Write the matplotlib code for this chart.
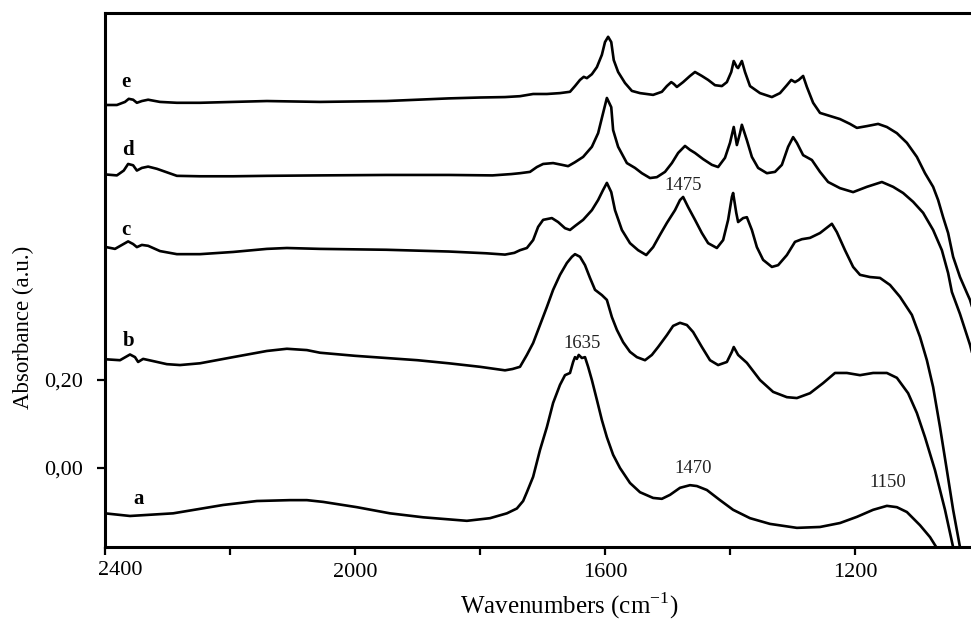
import matplotlib
matplotlib.use("Agg")
import matplotlib.pyplot as plt
from matplotlib.ticker import FixedLocator, FixedFormatter

plt.rcParams['font.family'] = ['Liberation Serif', 'DejaVu Serif']

# ---- data: (wavenumber cm-1, absorbance) ----
pts_a = [(2400, -0.103), (2360, -0.109), (2291, -0.103), (2211, -0.084), (2157, -0.075),
         (2104, -0.073), (2077, -0.073), (2051, -0.077), (1997, -0.089), (1944, -0.103),
         (1891, -0.112), (1821, -0.120), (1784, -0.114), (1757, -0.103), (1741, -0.092),
         (1731, -0.075), (1725, -0.055), (1715, -0.020), (1704, 0.041), (1693, 0.093),
         (1683, 0.148), (1672, 0.189), (1664, 0.211), (1656, 0.216), (1651, 0.241),
         (1648, 0.252), (1645, 0.248), (1642, 0.257), (1637, 0.250), (1632, 0.252),
         (1627, 0.230), (1621, 0.200), (1613, 0.155), (1605, 0.109), (1597, 0.070),
         (1587, 0.030), (1576, 0.000), (1560, -0.034), (1544, -0.055), (1523, -0.068),
         (1509, -0.070), (1496, -0.061), (1480, -0.045), (1464, -0.039), (1453, -0.041),
         (1437, -0.050), (1416, -0.073), (1395, -0.095), (1368, -0.114), (1336, -0.127),
         (1293, -0.136), (1256, -0.134), (1224, -0.125), (1197, -0.111), (1171, -0.095),
         (1149, -0.086), (1133, -0.089), (1117, -0.100), (1096, -0.130), (1080, -0.157),
         (1069, -0.182), (1050, -0.25)]

pts_b = [(2398, 0.247), (2376, 0.245), (2360, 0.258), (2352, 0.252), (2347, 0.241),
         (2339, 0.248), (2323, 0.243), (2301, 0.236), (2280, 0.234), (2248, 0.238),
         (2195, 0.252), (2141, 0.266), (2109, 0.271), (2077, 0.268), (2056, 0.262),
         (2000, 0.255), (1900, 0.245), (1850, 0.238), (1800, 0.230), (1780, 0.226),
         (1760, 0.222), (1748, 0.225), (1736, 0.230), (1725, 0.257), (1715, 0.284),
         (1704, 0.325), (1693, 0.366), (1683, 0.405), (1672, 0.439), (1661, 0.466),
         (1653, 0.480), (1648, 0.486), (1640, 0.480), (1632, 0.461), (1624, 0.432),
         (1616, 0.405), (1605, 0.393), (1597, 0.382), (1589, 0.343), (1581, 0.314),
         (1571, 0.286), (1560, 0.264), (1549, 0.252), (1536, 0.245), (1525, 0.257),
         (1515, 0.275), (1501, 0.302), (1491, 0.323), (1480, 0.330), (1469, 0.325),
         (1459, 0.309), (1445, 0.275), (1432, 0.245), (1419, 0.234), (1405, 0.241),
         (1397, 0.264), (1394, 0.275), (1387, 0.257), (1373, 0.239), (1352, 0.200),
         (1331, 0.173), (1309, 0.161), (1293, 0.159), (1272, 0.170), (1251, 0.193),
         (1232, 0.216), (1213, 0.216), (1192, 0.211), (1171, 0.216), (1149, 0.216),
         (1133, 0.205), (1115, 0.170), (1101, 0.125), (1088, 0.070), (1072, -0.005),
         (1056, -0.095), (1043, -0.180), (1030, -0.26)]

pts_c = [(2398, 0.502), (2384, 0.498), (2363, 0.515), (2355, 0.509), (2349, 0.502),
         (2341, 0.507), (2331, 0.505), (2312, 0.493), (2285, 0.486), (2248, 0.486),
         (2195, 0.491), (2141, 0.498), (2109, 0.500), (2056, 0.498), (1950, 0.496),
         (1850, 0.492), (1790, 0.488), (1760, 0.485), (1745, 0.489), (1736, 0.495),
         (1725, 0.500), (1715, 0.518), (1707, 0.548), (1699, 0.564), (1685, 0.568),
         (1675, 0.559), (1664, 0.545), (1656, 0.541), (1648, 0.550), (1635, 0.564),
         (1621, 0.586), (1611, 0.609), (1603, 0.632), (1597, 0.648), (1590, 0.627),
         (1584, 0.586), (1573, 0.541), (1560, 0.511), (1547, 0.495), (1534, 0.484),
         (1523, 0.502), (1512, 0.530), (1501, 0.557), (1488, 0.586), (1480, 0.609),
         (1475, 0.616), (1467, 0.593), (1456, 0.564), (1445, 0.534), (1435, 0.511),
         (1421, 0.500), (1411, 0.518), (1403, 0.564), (1397, 0.616), (1395, 0.625),
         (1390, 0.580), (1387, 0.559), (1379, 0.568), (1373, 0.570), (1365, 0.541),
         (1357, 0.502), (1347, 0.473), (1333, 0.457), (1323, 0.461), (1309, 0.484),
         (1296, 0.514), (1285, 0.520), (1272, 0.523), (1256, 0.534), (1237, 0.555),
         (1229, 0.536), (1216, 0.495), (1203, 0.457), (1192, 0.439), (1176, 0.434),
         (1160, 0.432), (1144, 0.416), (1128, 0.389), (1109, 0.348), (1096, 0.298),
         (1085, 0.245), (1075, 0.184), (1064, 0.093), (1053, -0.005), (1043, -0.095),
         (1032, -0.180), (1022, -0.26)]

pts_d = [(2398, 0.667), (2381, 0.665), (2370, 0.676), (2363, 0.691), (2355, 0.688),
         (2349, 0.676), (2341, 0.682), (2331, 0.685), (2317, 0.680), (2301, 0.672),
         (2285, 0.664), (2248, 0.663), (2195, 0.663), (2141, 0.664), (2056, 0.665),
         (1950, 0.666), (1850, 0.666), (1780, 0.665), (1750, 0.668), (1736, 0.670),
         (1720, 0.673), (1709, 0.684), (1699, 0.691), (1683, 0.693), (1669, 0.689),
         (1659, 0.686), (1648, 0.695), (1635, 0.707), (1621, 0.730), (1611, 0.761),
         (1603, 0.807), (1597, 0.841), (1590, 0.820), (1587, 0.768), (1579, 0.730),
         (1565, 0.693), (1552, 0.682), (1541, 0.670), (1528, 0.659), (1517, 0.661),
         (1504, 0.673), (1493, 0.693), (1483, 0.716), (1472, 0.732), (1464, 0.723),
         (1456, 0.716), (1443, 0.702), (1429, 0.689), (1419, 0.684), (1408, 0.705),
         (1400, 0.739), (1394, 0.775), (1389, 0.734), (1384, 0.761), (1381, 0.780),
         (1373, 0.745), (1365, 0.707), (1355, 0.682), (1341, 0.670), (1328, 0.673),
         (1317, 0.689), (1307, 0.730), (1299, 0.752), (1293, 0.739), (1283, 0.711),
         (1269, 0.700), (1256, 0.673), (1243, 0.650), (1224, 0.636), (1203, 0.627),
         (1181, 0.639), (1157, 0.650), (1139, 0.639), (1123, 0.625), (1107, 0.605),
         (1091, 0.580), (1075, 0.541), (1061, 0.495), (1051, 0.443), (1045, 0.400),
         (1032, 0.350), (1016, 0.280), (1005, 0.220)]

pts_e = [(2398, 0.825), (2381, 0.825), (2368, 0.832), (2362, 0.839), (2355, 0.837),
         (2349, 0.830), (2341, 0.834), (2331, 0.837), (2312, 0.832), (2285, 0.830),
         (2248, 0.830), (2195, 0.832), (2141, 0.834), (2056, 0.832), (1950, 0.834),
         (1850, 0.840), (1800, 0.842), (1760, 0.843), (1736, 0.845), (1715, 0.850),
         (1693, 0.850), (1672, 0.852), (1656, 0.855), (1648, 0.868), (1640, 0.882),
         (1634, 0.889), (1629, 0.886), (1621, 0.895), (1613, 0.911), (1605, 0.939),
         (1600, 0.968), (1595, 0.980), (1590, 0.968), (1586, 0.927), (1579, 0.900),
         (1568, 0.875), (1557, 0.857), (1544, 0.852), (1523, 0.848), (1509, 0.855),
         (1501, 0.868), (1494, 0.877), (1490, 0.873), (1485, 0.866), (1475, 0.877),
         (1464, 0.891), (1456, 0.900), (1445, 0.891), (1435, 0.882), (1424, 0.870),
         (1413, 0.868), (1405, 0.877), (1398, 0.900), (1394, 0.925), (1389, 0.911),
         (1387, 0.909), (1381, 0.925), (1376, 0.900), (1368, 0.868), (1352, 0.852),
         (1333, 0.843), (1320, 0.852), (1309, 0.870), (1302, 0.882), (1296, 0.877),
         (1290, 0.882), (1283, 0.891), (1277, 0.866), (1267, 0.830), (1256, 0.807),
         (1240, 0.800), (1224, 0.793), (1208, 0.782), (1197, 0.773), (1181, 0.777),
         (1163, 0.782), (1149, 0.775), (1133, 0.761), (1117, 0.739), (1101, 0.707),
         (1088, 0.670), (1075, 0.639), (1067, 0.609), (1059, 0.570), (1051, 0.534),
         (1043, 0.480), (1032, 0.434), (1021, 0.398), (1016, 0.382), (1005, 0.330)]

series = [pts_a, pts_b, pts_c, pts_d, pts_e]

curve_labels = ['a', 'b', 'c', 'd', 'e']
curve_label_wn = [2347, 2363, 2366, 2363, 2366]
curve_label_ab = [-0.071, 0.288, 0.542, 0.723, 0.877]

peak_texts = ['1635', '1470', '1150', '1475']
peak_wn = [1637, 1459, 1147, 1475]
peak_ab = [0.282, 0.000, -0.034, 0.643]

x_major = [2400, 2000, 1600, 1200]
x_minor = [2200, 1800, 1400, 1000]
y_ticks = [0.0, 0.2]
y_ticklabels = ['0,00', '0,20']

# ---- figure ----
W, H = 971, 622
fig = plt.figure(figsize=(W / 100, H / 100), dpi=100)
left_px, right_px, top_px, bot_px = 105, 980, 12.5, 547
ax = fig.add_axes([left_px / W, 1 - bot_px / H, (right_px - left_px) / W, (bot_px - top_px) / H])

for pts in series:
    wn = [p[0] for p in pts]
    ab = [p[1] for p in pts]
    ax.plot(wn, ab, color='black', lw=1.9, solid_joinstyle='round', solid_capstyle='round')

ax.set_xlim(2400, 1000)
ax.set_ylim(-0.1795, 1.0352)

for s in ['left', 'bottom', 'top']:
    ax.spines[s].set_linewidth(2.2)
ax.spines['right'].set_visible(False)

ax.xaxis.set_major_locator(FixedLocator(x_major))
ax.xaxis.set_major_formatter(FixedFormatter([''] + [str(v) for v in x_major[1:]]))
ax.xaxis.set_minor_locator(FixedLocator(x_minor))
ax.yaxis.set_major_locator(FixedLocator(y_ticks))
ax.yaxis.set_major_formatter(FixedFormatter(y_ticklabels))
ax.tick_params(axis='both', which='both', direction='out', length=5.5, width=1.6,
               labelsize=16)
ax.tick_params(axis='x', which='both', pad=6)
ax.tick_params(axis='y', which='both', pad=10)

# first x tick label sits shifted to the right of its tick
ax.annotate(str(x_major[0]), xy=(x_major[0], 0), xycoords=('data', 'axes fraction'),
            xytext=(11, -17), textcoords='offset points', ha='center', va='center',
            fontsize=16, annotation_clip=False)

fig.text(569 / W, 1 - 606 / H, 'Wavenumbers (cm$^{\\mathregular{-1}}$)', ha='center',
         va='center', fontsize=18)
fig.text(23 / W, 1 - 327 / H, 'Absorbance (a.u.)', ha='center', va='center', rotation=90,
         fontsize=16.5)

for t, x, y in zip(curve_labels, curve_label_wn, curve_label_ab):
    ax.text(x, y, t, ha='center', va='center', fontsize=15, fontweight='bold')

for t, x, y in zip(peak_texts, peak_wn, peak_ab):
    ax.text(x, y, t, ha='center', va='center', fontsize=13.5, color='#222222')

fig.savefig('out.png', dpi=100)
